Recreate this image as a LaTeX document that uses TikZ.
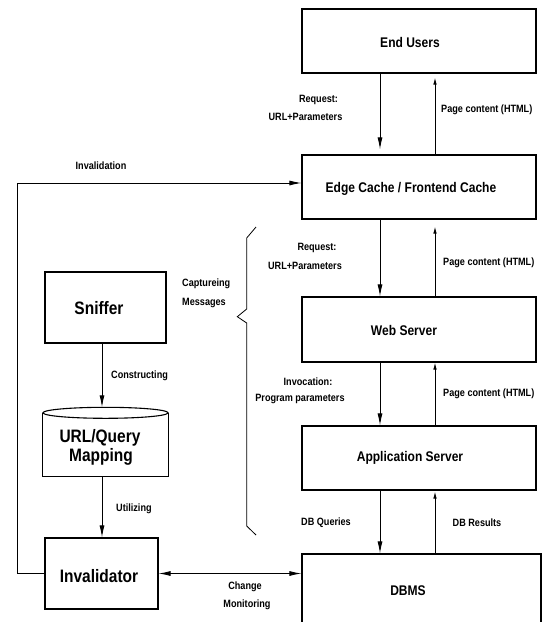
\documentclass[tikz,border=0pt]{standalone}
\usepackage{fontspec}
\setmainfont{Liberation Sans}[FakeStretch=0.86]
\usetikzlibrary{arrows.meta,calc}
\tikzset{
  box/.style={draw=black, line width=1.1pt, inner sep=0pt, fill=white},
  lbl/.style={font=\bfseries\fontsize{10.6}{12}\selectfont, inner sep=0pt},
  midtxt/.style={font=\bfseries\fontsize{14}{16}\selectfont, inner sep=0pt},
  bigtxt/.style={font=\bfseries\fontsize{18}{19}\selectfont, inner sep=0pt, align=center},
  big/.style={-{Latex[length=12pt,width=5pt]}, line width=0.9pt},
  small/.style={-{Latex[length=7pt,width=3.5pt]}, line width=0.9pt},
  dbl/.style={{Latex[length=12pt,width=5pt]}-{Latex[length=12pt,width=5pt]}, line width=0.9pt},
  ln/.style={line width=0.9pt},
}
\begin{document}
\begin{tikzpicture}[x=1pt,y=-1pt]
\clip (0,0) rectangle (542,622);
\fill[white] (0,0) rectangle (542,622);

% right column boxes
\node[box, minimum width=234pt, minimum height=64pt] (eu) at (419,41) {};
\node[midtxt] (eut) at (410,42) {End Users};
\node[box, minimum width=234pt, minimum height=64pt] (ec) at (419,187) {};
\node[midtxt] (ect) at (411,189) {Edge Cache / Frontend Cache};
\node[box, minimum width=234pt, minimum height=65pt] (ws) at (419,329.5) {};
\node[midtxt] (wst) at (404,330) {Web Server};
\node[box, minimum width=234pt, minimum height=64pt] (as) at (419,458) {};
\node[midtxt] (ast) at (410,458) {Application Server};
\node[box, minimum width=239pt, minimum height=90pt] (db) at (421.5,599) {};
\node[midtxt] (dbt) at (408,591) {DBMS};

% left column
\node[box, minimum width=121pt, minimum height=71pt] (sn) at (105.5,307.5) {};
\node[bigtxt] (snt) at (99,308) {Sniffer};
\node[minimum width=125pt, minimum height=63pt, inner sep=0pt] (map) at (105.5,444.5) {};
\draw[line width=1.1pt, fill=white] (map.north west) -- (map.south west) -- (map.south east) -- (map.north east);
\draw[line width=1.1pt, fill=white] (map.north) ellipse [x radius=62.5pt, y radius=5.5pt];
\node[bigtxt] (mapt1) at (100,438) {URL/Query};
\node[bigtxt] (mapt2) at (101,457) {Mapping};
\node[box, minimum width=113pt, minimum height=71pt] (inv) at (101.5,573.5) {};
\node[bigtxt] (invt) at (99,576) {Invalidator};

% x positions of vertical arrows
\coordinate (dx) at (380,0);
\coordinate (ux) at (435,0);
\coordinate (lx) at (102,0);
\coordinate (corner) at (17,183);

% vertical arrows right column
\draw[big, shorten >=5pt] (eu.south -| dx) -- (ec.north -| dx);
\draw[small, shorten >=4pt] (ec.north -| ux) -- (eu.south -| ux);
\draw[big] (ec.south -| dx) -- (ws.north -| dx);
\draw[small, shorten >=7pt] (ws.north -| ux) -- (ec.south -| ux);
\draw[big] (ws.south -| dx) -- (as.north -| dx);
\draw[small] (as.north -| ux) -- (ws.south -| ux);
\draw[big] (as.south -| dx) -- (db.north -| dx);
\draw[small, shorten >=1pt] (db.north -| ux) -- (as.south -| ux);

% left column arrows
\draw[big] (sn.south -| lx) -- ([yshift=5.5pt]map.north -| lx);
\draw[big] (map.south -| lx) -- (inv.north -| lx);

% invalidation loop
\draw[ln] (inv.west) -| (corner);
\draw[big] (corner) -- (corner -| ec.west);
% change monitoring
\draw[dbl] (inv.east) -- (inv.east -| db.west);

% brace
\draw[line width=0.8pt] (256,227) -- (246.7,238) -- (246.7,309) -- (237.3,316.7) -- (246.7,323) -- (246.7,526) -- (256,535);

% labels
\node[lbl] (l1) at (318.5,100) {Request:};
\node[lbl] (l2) at (305.5,117) {URL+Parameters};
\node[lbl, anchor=west] (l3) at (441,110) {Page content (HTML)};
\node[lbl] (l4) at (101,166) {Invalidation};
\node[lbl] (l5) at (317,248) {Request:};
\node[lbl] (l6) at (305,266) {URL+Parameters};
\node[lbl, anchor=west] (l7) at (443,263) {Page content (HTML)};
\node[lbl, anchor=west] (l8) at (182,284) {Captureing};
\node[lbl, anchor=west] (l9) at (182,303) {Messages};
\node[lbl, anchor=west] (l10) at (111,376) {Constructing};
\node[lbl] (l11) at (308,382) {Invocation:};
\node[lbl] (l12) at (300,399) {Program parameters};
\node[lbl, anchor=west] (l13) at (443,394) {Page content (HTML)};
\node[lbl, anchor=west] (l14) at (116,509) {Utilizing};
\node[lbl] (l15) at (326,523) {DB Queries};
\node[lbl] (l16) at (477,523) {DB Results};
\node[lbl] (l17) at (245,587) {Change};
\node[lbl] (l18) at (247,605) {Monitoring};
\end{tikzpicture}
\end{document}
